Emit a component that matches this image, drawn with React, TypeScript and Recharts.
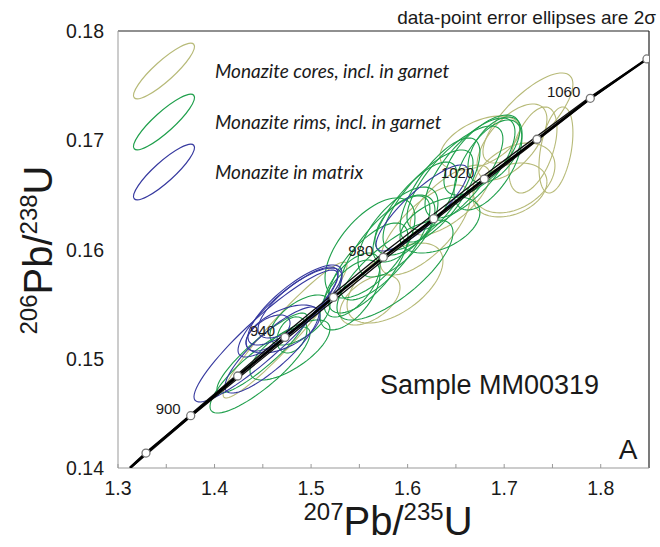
import React from 'react'
import { ScatterChart, Scatter, XAxis, YAxis, ReferenceLine } from 'recharts'

// concordia reference points (20 Ma steps)
const concordiaAges = [880, 900, 920, 940, 960, 980, 1000, 1020, 1040, 1060, 1080]
const concordiaX = [1.329, 1.3753, 1.424, 1.473, 1.5232, 1.5748, 1.627, 1.6794, 1.734, 1.7892, 1.8479]
const concordiaY = [0.14137, 0.14479, 0.14842, 0.15196, 0.15562, 0.15929, 0.16282, 0.16645, 0.17009, 0.17384, 0.17744]
const labeledAges = [900, 940, 980, 1020, 1060]
const curveStart = { x: 1.3124, y: 0.14 }

// decay-constant envelope
const envUpperX = [1.3124, 1.3753, 1.473, 1.5748, 1.6794, 1.7892, 1.8479]
const envUpperY = [0.14008, 0.14492, 0.15231, 0.15969, 0.1668, 0.17399, 0.17744]
const envLowerX = [1.3124, 1.3753, 1.473, 1.5748, 1.6794, 1.7892, 1.8479]
const envLowerY = [0.13995, 0.14468, 0.15172, 0.15902, 0.16622, 0.17376, 0.17744]

// monazite cores, incl. in garnet: x, y, 2s x, 2s y, rho
const coresX = [1.7246, 1.7536, 1.7101, 1.7298, 1.7081, 1.6749, 1.706, 1.5869, 1.473, 1.618, 1.561, 1.6439]
const coresY = [0.17204, 0.16911, 0.16655, 0.16911, 0.16984, 0.16975, 0.16545, 0.15693, 0.15263, 0.16179, 0.15538, 0.16453]
const coresSx = [0.0466, 0.0176, 0.0425, 0.0249, 0.0362, 0.0414, 0.0383, 0.0497, 0.0642, 0.0466, 0.0311, 0.0414]
const coresSy = [0.00412, 0.00394, 0.0032, 0.00394, 0.00348, 0.00247, 0.00247, 0.00366, 0.00622, 0.00412, 0.00229, 0.0032]
const coresRho = [0.75, 0.4, 0.35, 0.5, 0.6, 0.5, 0.3, 0.55, 0.95, 0.7, 0.5, 0.7]

// monazite rims, incl. in garnet
const rimsX = [1.4471, 1.4491, 1.4802, 1.4781, 1.4885, 1.5424, 1.5589, 1.5765, 1.59, 1.5972, 1.6076, 1.6211, 1.6335, 1.649, 1.6646, 1.677, 1.6905, 1.6832, 1.5869, 1.5403, 1.6335, 1.561]
const rimsY = [0.14897, 0.15053, 0.15218, 0.1508, 0.15355, 0.15675, 0.15831, 0.16014, 0.1616, 0.16224, 0.16343, 0.16453, 0.16545, 0.16655, 0.16746, 0.16865, 0.16911, 0.16774, 0.15812, 0.15584, 0.16224, 0.16014]
const rimsSx = [0.0518, 0.0466, 0.0155, 0.0414, 0.0311, 0.029, 0.0414, 0.0466, 0.0414, 0.0311, 0.0435, 0.0466, 0.0414, 0.0497, 0.0466, 0.0394, 0.028, 0.0352, 0.0601, 0.0311, 0.0414, 0.0466]
const rimsSy = [0.00394, 0.00366, 0.00165, 0.00275, 0.00229, 0.00293, 0.00412, 0.00476, 0.00412, 0.00275, 0.00458, 0.00458, 0.00476, 0.00476, 0.00458, 0.00366, 0.00302, 0.00412, 0.00458, 0.0032, 0.00256, 0.00458]
const rimsRho = [0.85, 0.9, 0.3, 0.7, 0.6, 0.6, 0.7, 0.75, 0.65, 0.5, 0.75, 0.75, 0.72, 0.75, 0.72, 0.65, 0.5, 0.6, 0.75, 0.6, 0.45, 0.6]

// monazite in matrix
const matrixX = [1.4533, 1.4833, 1.4885, 1.4761, 1.4554, 1.4709, 1.4595, 1.6149]
const matrixY = [0.15208, 0.15492, 0.1551, 0.15428, 0.15236, 0.15272, 0.1508, 0.1638]
const matrixSx = [0.0746, 0.0487, 0.0435, 0.0518, 0.0228, 0.0383, 0.0487, 0.0476]
const matrixSy = [0.00604, 0.00366, 0.0032, 0.00412, 0.00165, 0.0022, 0.00394, 0.00394]
const matrixRho = [0.92, 0.8, 0.75, 0.85, 0.55, 0.55, 0.85, 0.85]

const xTicks = [1.3, 1.35, 1.4, 1.45, 1.5, 1.55, 1.6, 1.65, 1.7, 1.75, 1.8]
const yTicks = [0.14, 0.15, 0.16, 0.17, 0.18]

const CORE = '#b7ba78'
const RIM = '#1e9f4b'
const MATRIX = '#36399f'
const FONT = 'Liberation Sans, Arial, sans-serif'

// outline of a 2-sigma error ellipse in data space
function ellipse(x: number, y: number, sx: number, sy: number, rho: number) {
  const k = Math.sqrt(1 - rho * rho)
  const pts = []
  for (let i = 0; i <= 72; i++) {
    const t = (i / 72) * Math.PI * 2
    pts.push({ x: x + sx * Math.cos(t), y: y + sy * (rho * Math.cos(t) + k * Math.sin(t)) })
  }
  return pts
}

const group = (xs: number[], ys: number[], sxs: number[], sys: number[], rhos: number[]) =>
  xs.map((x, i) => ellipse(x, ys[i], sxs[i], sys[i], rhos[i]))

const cores = group(coresX, coresY, coresSx, coresSy, coresRho)
const rims = group(rimsX, rimsY, rimsSx, rimsSy, rimsRho)
const matrix = group(matrixX, matrixY, matrixSx, matrixSy, matrixRho)

const concordiaPts = concordiaAges.map((a, i) => ({ x: concordiaX[i], y: concordiaY[i], age: a }))
const concordiaLine = [curveStart, ...concordiaPts]
const envUpper = envUpperX.map((x, i) => ({ x, y: envUpperY[i] }))
const envLower = envLowerX.map((x, i) => ({ x, y: envLowerY[i] }))

const noDot = () => <g />

function XTick(props: any) {
  const { x, y, payload } = props
  const v = payload.value
  const major = Math.abs(v * 10 - Math.round(v * 10)) < 1e-6
  return (
    <g>
      <line x1={x} x2={x} y1={y} y2={y - 4} stroke="#999" />
      {major && (
        <text x={x} y={y + 27} textAnchor="middle" fontSize={19.5} fill="#1a1a1a" fontFamily={FONT}>
          {v.toFixed(1)}
        </text>
      )}
    </g>
  )
}

function YTick(props: any) {
  const { x, y, payload } = props
  return (
    <text x={x - 14} y={y + 7} textAnchor="end" fontSize={19.5} fill="#1a1a1a" fontFamily={FONT}>
      {payload.value.toFixed(2)}
    </text>
  )
}

function AgeDot(props: any) {
  const { cx, cy, payload } = props
  const labeled = labeledAges.includes(payload.age)
  return (
    <g>
      <circle cx={cx} cy={cy} r={4} fill="#fff" stroke="#777" strokeWidth={1.3} />
      {labeled && (
        <text x={cx - 10} y={cy - 1.5} textAnchor="end" fontSize={15} fill="#1a1a1a" fontFamily={FONT}>
          {payload.age}
        </text>
      )}
    </g>
  )
}

const legendItems = [
  { label: 'Monazite cores, incl. in garnet', color: CORE, cy: 71 },
  { label: 'Monazite rims, incl. in garnet', color: RIM, cy: 122 },
  { label: 'Monazite in matrix', color: MATRIX, cy: 172 },
]

export default function App() {
  return (
    <div style={{ position: 'absolute', left: 0, top: 0, width: 660, height: 547, background: '#fff' }}>
      <ScatterChart width={660} height={547} margin={{ top: 31, right: 11, bottom: 39, left: 58 }}>
        <XAxis
          type="number" dataKey="x" domain={[1.3, 1.85]} ticks={xTicks} allowDataOverflow
          height={40} tickSize={0} tickMargin={0} tick={<XTick />}
          axisLine={{ stroke: '#999' }} tickLine={false}
        />
        <YAxis
          type="number" dataKey="y" domain={[0.14, 0.18]} ticks={yTicks} allowDataOverflow
          width={60} tickSize={0} tickMargin={0} tick={<YTick />}
          axisLine={{ stroke: '#999' }} tickLine={false}
        />
        <ReferenceLine y={0.18} stroke="#222" strokeWidth={1.2} />
        <ReferenceLine x={1.85} stroke="#222" strokeWidth={1.2} />
        {cores.map((d, i) => (
          <Scatter key={'c' + i} data={d} line={{ stroke: CORE, strokeWidth: 1.1 }} lineType="joint" shape={noDot} isAnimationActive={false} />
        ))}
        {rims.map((d, i) => (
          <Scatter key={'r' + i} data={d} line={{ stroke: RIM, strokeWidth: 1.1 }} lineType="joint" shape={noDot} isAnimationActive={false} />
        ))}
        {matrix.map((d, i) => (
          <Scatter key={'m' + i} data={d} line={{ stroke: MATRIX, strokeWidth: 1.1 }} lineType="joint" shape={noDot} isAnimationActive={false} />
        ))}
        <Scatter data={envUpper} line={{ stroke: '#111', strokeWidth: 1.3 }} lineType="joint" shape={noDot} isAnimationActive={false} />
        <Scatter data={envLower} line={{ stroke: '#111', strokeWidth: 1.3 }} lineType="joint" shape={noDot} isAnimationActive={false} />
        <Scatter data={concordiaLine} line={{ stroke: '#000', strokeWidth: 2.6 }} lineType="joint" shape={noDot} isAnimationActive={false} />
        <Scatter data={concordiaPts} shape={<AgeDot />} isAnimationActive={false} />
      </ScatterChart>

      <svg width={660} height={547} style={{ position: 'absolute', left: 0, top: 0, pointerEvents: 'none' }}>
        <text x={656} y={24} textAnchor="end" fontSize={19} fill="#1a1a1a" fontFamily={FONT}>
          data-point error ellipses are 2σ
        </text>
        {legendItems.map(it => (
          <g key={it.label}>
            <ellipse cx={164} cy={it.cy} rx={40} ry={10} fill="none" stroke={it.color} strokeWidth={1.2}
              transform={`rotate(-42 164 ${it.cy})`} />
            <text x={215} y={it.cy + 6.5} fontSize={19} fontStyle="italic" fill="#1a1a1a" fontFamily="Lato, sans-serif">
              {it.label}
            </text>
          </g>
        ))}
        <text x={380} y={394} fontSize={27} fill="#1a1a1a" fontFamily={FONT}>Sample MM00319</text>
        <text x={628} y={459} textAnchor="middle" fontSize={28} fill="#1a1a1a" fontFamily={FONT}>A</text>
        <text x={388} y={535} textAnchor="middle" fill="#1a1a1a" fontFamily={FONT}>
          <tspan fontSize={24} dy={-15}>207</tspan>
          <tspan fontSize={40} dy={15}>Pb/</tspan>
          <tspan fontSize={24} dy={-15}>235</tspan>
          <tspan fontSize={40} dy={15}>U</tspan>
        </text>
        <text transform="translate(52 250) rotate(-90)" textAnchor="middle" fill="#1a1a1a" fontFamily={FONT}>
          <tspan fontSize={24} dy={-15}>206</tspan>
          <tspan fontSize={40} dy={15}>Pb/</tspan>
          <tspan fontSize={24} dy={-15}>238</tspan>
          <tspan fontSize={40} dy={15}>U</tspan>
        </text>
      </svg>
    </div>
  )
}
